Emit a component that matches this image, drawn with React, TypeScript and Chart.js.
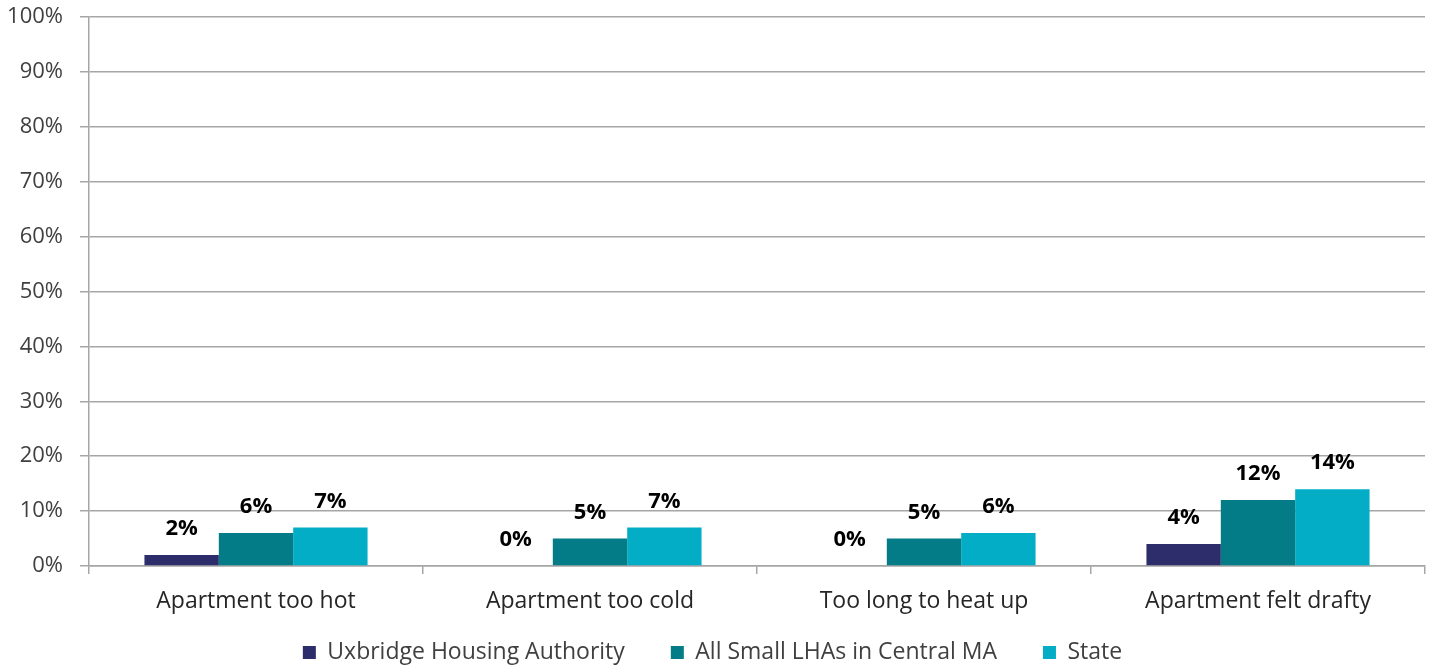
import React, { useEffect, useRef } from "react";
import { Chart, registerables } from "chart.js";

Chart.register(...registerables);

const categories = [
  "Apartment too hot",
  "Apartment too cold",
  "Too long to heat up",
  "Apartment felt drafty",
];
const seriesNames = [
  "Uxbridge Housing Authority",
  "All Small LHAs in Central MA",
  "State",
];
const uxbridge = [2, 0, 0, 4];
const smallLHAs = [6, 5, 5, 12];
const stateValues = [7, 7, 6, 14];
const seriesColors = ["#2E2D6B", "#037C88", "#03ADC6"];

const FONT = "'Open Sans', sans-serif";

const valueLabels = {
  id: "valueLabels",
  afterDatasetsDraw(chart: any) {
    const ctx = chart.ctx;
    ctx.save();
    ctx.font = `bold 22px ${FONT}`;
    ctx.fillStyle = "#000000";
    ctx.textAlign = "center";
    ctx.textBaseline = "middle";
    chart.data.datasets.forEach((ds: any, di: number) => {
      const meta = chart.getDatasetMeta(di);
      meta.data.forEach((el: any, i: number) => {
        ctx.fillText(ds.data[i] + "%", el.x, el.y - 26);
      });
    });
    ctx.restore();
  },
};

export default function App() {
  const ref = useRef<HTMLCanvasElement>(null);
  useEffect(() => {
    if (!ref.current) return;
    const chart = new Chart(ref.current, {
      type: "bar",
      data: {
        labels: categories,
        datasets: [
          { label: seriesNames[0], data: uxbridge, backgroundColor: seriesColors[0] },
          { label: seriesNames[1], data: smallLHAs, backgroundColor: seriesColors[1] },
          { label: seriesNames[2], data: stateValues, backgroundColor: seriesColors[2] },
        ],
      },
      options: {
        responsive: false,
        animation: false,
        layout: { padding: { top: 17, right: 10, left: 0, bottom: 0 } },
        datasets: { bar: { categoryPercentage: 0.668, barPercentage: 1 } },
        plugins: {
          tooltip: { enabled: false },
          legend: {
            position: "bottom",
            maxHeight: 72,
            labels: {
              boxWidth: 13,
              boxHeight: 13,
              padding: 46,
              color: "#404040",
              font: { family: FONT, size: 23 },
            },
          },
        },
        scales: {
          x: {
            grid: {
              offset: true,
              drawOnChartArea: false,
              drawTicks: true,
              tickLength: 8,
              color: "#A6A6A6",
              lineWidth: 1.5,
            },
            border: { display: true, color: "#A6A6A6", width: 1.5 },
            ticks: {
              mirror: true,
              color: "#262626",
              padding: -49,
              font: { family: FONT, size: 23 },
            },
            afterFit: (s: any) => {
              s.height = 29;
              s.paddingLeft = 0;
              s.paddingRight = 0;
            },
          },
          y: {
            min: 0,
            max: 100,
            grid: {
              color: "#A6A6A6",
              lineWidth: 1.5,
              drawTicks: true,
              tickLength: 9,
            },
            border: { display: true, color: "#A6A6A6", width: 1.5 },
            ticks: {
              stepSize: 10,
              padding: 17,
              color: "#404040",
              font: { family: FONT, size: 22 },
              callback: (v: any) => v + "%",
            },
            afterFit: (s: any) => {
              s.width = 89;
              s.paddingTop = 0;
              s.paddingBottom = 0;
            },
          },
        },
      },
      plugins: [valueLabels],
    });
    return () => chart.destroy();
  }, []);
  return (
    <canvas
      ref={ref}
      width={1435}
      height={667}
      style={{ position: "absolute", left: 0, top: 0, display: "block", background: "#ffffff" }}
    />
  );
}
